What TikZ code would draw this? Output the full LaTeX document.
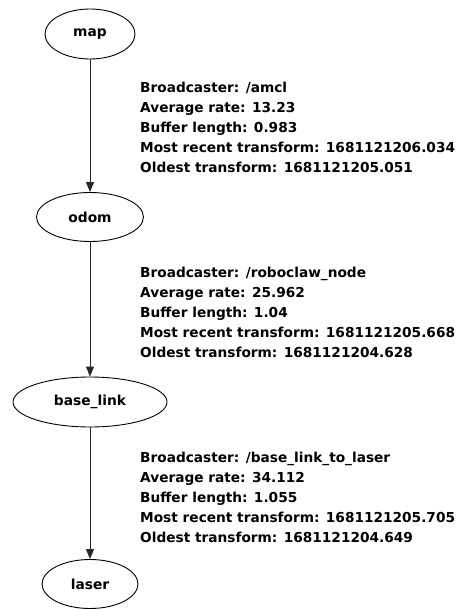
\documentclass[tikz,border=0pt]{standalone}
\usepackage{fontspec}
\setmainfont{DejaVu Sans}
\usetikzlibrary{shapes.geometric,arrows.meta}

\tikzset{
  frame/.style={draw=black, line width=0.9pt, ellipse, inner sep=0pt,
    font=\bfseries\fontsize{13.8}{20}\selectfont},
  link/.style={draw=black!85, line width=1pt,
    -{Triangle[length=10pt,width=8pt]}},
  info/.style={anchor=base west, align=left, inner sep=0pt,
    font=\bfseries\fontsize{13.7}{20}\selectfont}
}

\begin{document}
\begin{tikzpicture}[x=1pt,y=-1pt]
  \useasboundingbox (0,0) rectangle (468,610);

  % coordinate frames of the tf tree
  \node[frame, minimum width=90pt,  minimum height=50pt] (map)      at (90,34)  {map};
  \node[frame, minimum width=107pt, minimum height=49pt] (odom)     at (90,217) {odom};
  \node[frame, minimum width=154pt, minimum height=50pt] (baselink) at (90,402) {base\_link};
  \node[frame, minimum width=96pt,  minimum height=49pt] (laser)    at (90,584) {laser};

  % parent -> child transforms
  \draw[link] (map.south)      -- (odom.north);
  \draw[link] (odom.south)     -- (baselink.north);
  \draw[link] (baselink.south) -- (laser.north);

  % broadcaster statistics for each transform (anchored on the last line)
  \node[info] (info1) at (140,172) {Broadcaster: /amcl\\
    Average rate: 13.23\\
    Buffer length: 0.983\\
    Most recent transform: 1681121206.034\\
    Oldest transform: 1681121205.051};
  \node[info] (info2) at (140,357.5) {Broadcaster: /roboclaw\_node\\
    Average rate: 25.962\\
    Buffer length: 1.04\\
    Most recent transform: 1681121205.668\\
    Oldest transform: 1681121204.628};
  \node[info] (info3) at (140,542) {Broadcaster: /base\_link\_to\_laser\\
    Average rate: 34.112\\
    Buffer length: 1.055\\
    Most recent transform: 1681121205.705\\
    Oldest transform: 1681121204.649};
\end{tikzpicture}
\end{document}
